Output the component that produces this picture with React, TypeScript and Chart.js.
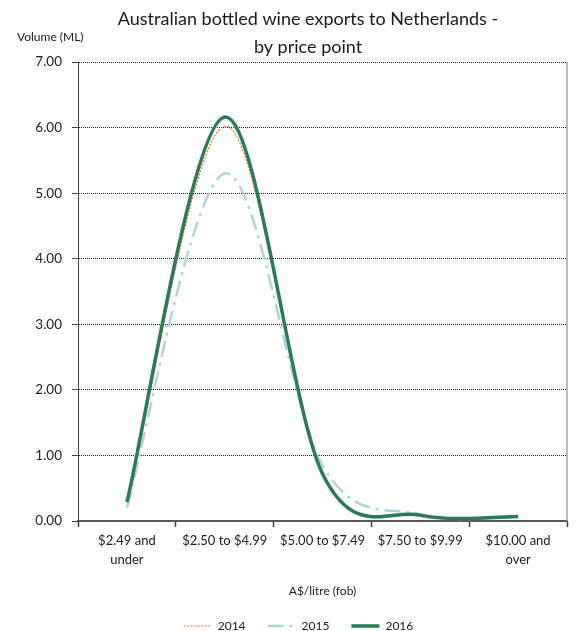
import React, { useEffect, useRef } from 'react';
import { Chart, registerables } from 'chart.js';

Chart.register(...registerables);

const titleLines = ['Australian bottled wine exports to Netherlands -', 'by price point'];
const yAxisTitle = 'Volume (ML)';
const xAxisTitle = 'A$/litre (fob)';
const categories: (string | string[])[] = [
  ['$2.49 and', 'under'],
  '$2.50 to $4.99',
  '$5.00 to $7.49',
  '$7.50 to $9.99',
  ['$10.00 and', 'over'],
];
const seriesLabels = ['2014', '2015', '2016'];
const values2014 = [0.21, 6.02, 0.7, 0.07, 0.07];
const values2015 = [0.2, 5.3, 0.85, 0.1, 0.06];
const values2016 = [0.29, 6.16, 0.72, 0.09, 0.07];
const yMin = 0;
const yMax = 7;
const yStep = 1;

const FONT = 'Lato';

// Spreadsheet-style smoothing: Bezier control points at P ± (Pnext - Pprev)/6
const smoothPlugin = {
  id: 'smooth',
  beforeDatasetDraw(chart: any, args: any) {
    const meta = args.meta;
    const line = meta.dataset;
    const pts = meta.data;
    if (!line || !pts || pts.length < 2) return;
    for (let i = 0; i < pts.length; i++) {
      const cur = pts[i];
      const prev = pts[i - 1] || cur;
      const next = pts[i + 1] || cur;
      const dx = (next.x - prev.x) / 6;
      const dy = (next.y - prev.y) / 6;
      cur.cp1x = cur.x - dx;
      cur.cp1y = cur.y - dy;
      cur.cp2x = cur.x + dx;
      cur.cp2y = cur.y + dy;
    }
    line._pointsUpdated = true;
    line._path = undefined;
  },
};

const decorPlugin = {
  id: 'decor',
  afterDraw(chart: any) {
    const { ctx, chartArea } = chart;
    ctx.save();
    ctx.strokeStyle = '#a6a6a6';
    ctx.lineWidth = 1.5;
    ctx.beginPath();
    ctx.moveTo(chartArea.right, chartArea.top);
    ctx.lineTo(chartArea.right, chartArea.bottom);
    ctx.stroke();
    ctx.fillStyle = '#1a1a1a';
    ctx.textBaseline = 'middle';
    ctx.textAlign = 'center';
    ctx.font = `18px ${FONT}`;
    ctx.fillText(titleLines[0], 308, 19);
    ctx.fillText(titleLines[1], 308, 47);
    ctx.textAlign = 'left';
    ctx.font = `12px ${FONT}`;
    ctx.fillText(yAxisTitle, 17, 37);
    ctx.restore();
  },
};

export default function App() {
  const ref = useRef<HTMLCanvasElement>(null);
  useEffect(() => {
    if (!ref.current) return;
    const chart = new Chart(ref.current, {
      type: 'line',
      data: {
        labels: categories,
        datasets: [
          {
            label: seriesLabels[0],
            data: values2014,
            borderColor: '#e4712e',
            backgroundColor: '#e4712e',
            borderWidth: 1.2,
            borderDash: [2, 1.5],
            pointRadius: 0,
            tension: 0.3,
            order: 2,
          },
          {
            label: seriesLabels[1],
            data: values2015,
            borderColor: '#aed6da',
            backgroundColor: '#aed6da',
            borderWidth: 2.5,
            borderDash: [16, 6, 3, 6],
            pointRadius: 0,
            tension: 0.3,
            order: 1,
          },
          {
            label: seriesLabels[2],
            data: values2016,
            borderColor: '#2b7a5a',
            backgroundColor: '#2b7a5a',
            borderWidth: 3.5,
            pointRadius: 0,
            tension: 0.3,
            order: 0,
          },
        ],
      },
      options: {
        animation: false,
        responsive: true,
        maintainAspectRatio: false,
        layout: { padding: { left: 30, right: 17, top: 62, bottom: -11 } },
        plugins: {
          title: { display: false },
          tooltip: { enabled: false },
          legend: {
            position: 'bottom',
            labels: {
              usePointStyle: true,
              pointStyleWidth: 28,
              boxHeight: 12,
              padding: 22,
              color: '#222',
              font: { family: FONT, size: 12 },
              generateLabels: (c: any) =>
                c.data.datasets.map((ds: any, i: number) => ({
                  text: ds.label,
                  strokeStyle: ds.borderColor,
                  fillStyle: ds.borderColor,
                  lineWidth: ds.borderWidth,
                  lineDash: ds.borderDash || [],
                  pointStyle: 'line',
                  hidden: false,
                  fontColor: '#222',
                  datasetIndex: i,
                })),
            },
          },
        },
        scales: {
          x: {
            offset: true,
            afterFit: (s: any) => {
              s.height = 77;
            },
            grid: {
              offset: true,
              drawOnChartArea: false,
              drawTicks: true,
              tickLength: 6,
              tickColor: '#404040',
              tickWidth: 1.5,
            },
            border: { display: true, color: '#595959', width: 2 },
            ticks: {
              autoSkip: false,
              maxRotation: 0,
              minRotation: 0,
              padding: 4,
              color: '#222',
              font: { family: FONT, size: 13, lineHeight: 1.5 },
            },
            title: {
              display: true,
              text: xAxisTitle,
              color: '#222',
              font: { family: FONT, size: 12 },
              padding: { top: 0, bottom: 0 },
            },
          },
          y: {
            min: yMin,
            max: yMax,
            afterFit: (s: any) => {
              s.width = 48;
            },
            grid: {
              color: '#222',
              lineWidth: 1,
              drawTicks: true,
              tickLength: 6,
              tickColor: '#404040',
              tickBorderDash: [],
            },
            border: { display: true, color: '#404040', width: 1, dash: [1, 1] },
            ticks: {
              stepSize: yStep,
              padding: 10,
              color: '#222',
              font: { family: FONT, size: 13.5 },
              callback: (v: any) => Number(v).toFixed(2),
            },
          },
        },
      },
      plugins: [smoothPlugin, decorPlugin],
    });
    return () => chart.destroy();
  }, []);
  return (
    <div style={{ position: 'fixed', left: 0, top: 0, width: 584, height: 631 }}>
      <canvas ref={ref} />
    </div>
  );
}
